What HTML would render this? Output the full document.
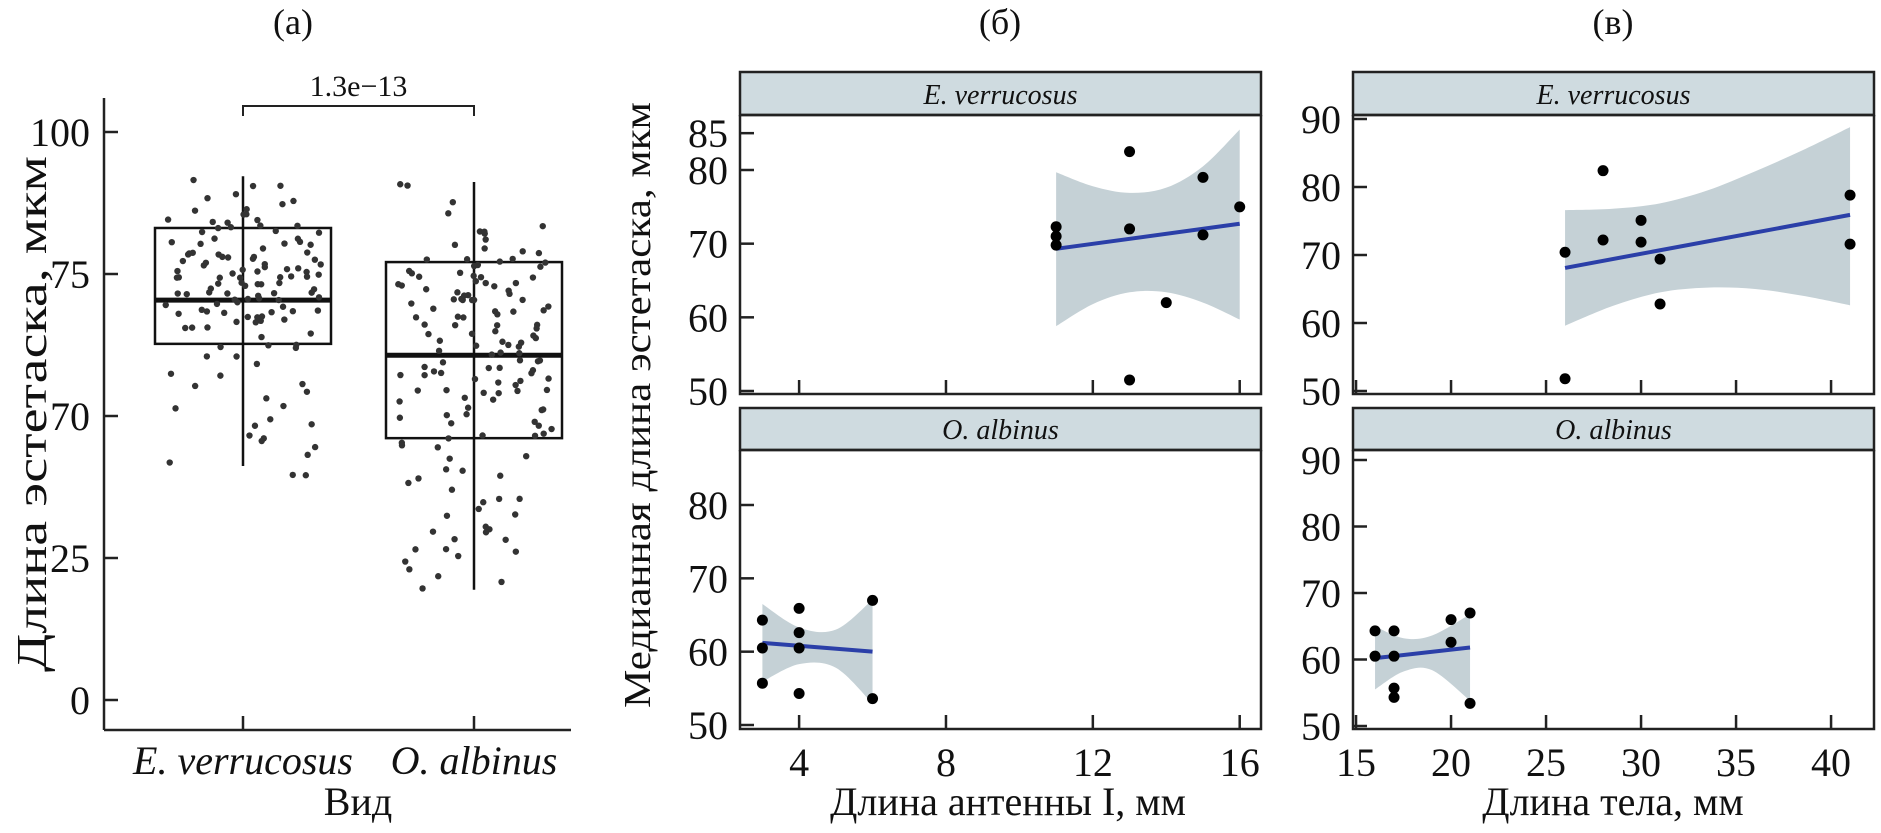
<!DOCTYPE html>
<html><head><meta charset="utf-8">
<style>
html,body{margin:0;padding:0;background:#fff;}
svg{display:block;font-family:"Liberation Serif",serif;}
</style></head>
<body>
<svg id="chart" width="1881" height="833" viewBox="0 0 1881 833" xmlns="http://www.w3.org/2000/svg"></svg>
<script>
// ---------- Panel (a) data ----------
const aCategories = ["E. verrucosus", "O. albinus"];
const aTickValues = [100, 75, 50, 25, 0];
const aTickLabels = ["100", "75", "70", "25", "0"];
const aQ1 = [62.7, 46.1];
const aMedian = [70.4, 60.7];
const aQ3 = [83.1, 77.1];
const aWhiskerLo = [41.2, 19.4];
const aWhiskerHi = [92.2, 91.2];
const evValues = [92,91,90,89,88,88,87,86,86,85,85,84,84,84,83,83,83,82,82,82,81,81,81,80,80,80,80,79,79,79,79,78,78,78,78,77,77,77,77,77,76,76,76,76,76,75,75,75,75,75,75,74,74,74,74,74,73,73,73,73,73,72,72,72,72,72,71,71,71,71,71,70,70,70,70,70,69,69,69,69,68,68,68,68,67,67,67,66,66,66,65,65,64,64,63,63,62,62,61,60,59,58,57,56,55,54,53,52,51,50,49,48,47,46,45,44,43,42,40,39,81,79,77,75,73,71,69,67,84,86];
const oaValues = [91,90,88,86,84,83,82,82,81,80,80,79,79,78,78,77,77,77,76,76,76,75,75,75,75,74,74,74,74,73,73,73,73,72,72,72,72,71,71,71,71,70,70,70,70,69,69,69,68,68,68,67,67,67,66,66,66,65,65,65,64,64,64,63,63,63,62,62,62,61,61,61,60,60,60,60,59,59,59,58,58,58,57,57,57,56,56,56,55,55,55,54,54,54,53,53,52,52,51,51,50,50,49,49,48,48,47,47,46,46,45,44,43,42,41,40,39,38,37,36,35,34,33,32,31,30,29,28,27,26,25,24,23,22,21,20,74,70,66,62,58,54,50,45,40,35,30,28,26];
const aPValue = "1.3e\u221213";

// ---------- Panel (б) data: antenna length ----------
const bXTicks = [4, 8, 12, 16];
const bYTicksTop = [50, 60, 70, 80, 85];
const bYTicksBottom = [50, 60, 70, 80];
const bEvX = [11, 11, 11, 13, 13, 13, 14, 15, 15, 16];
const bEvY = [72.3, 71.0, 69.8, 82.5, 72.0, 51.5, 62.0, 79.0, 71.2, 75.0];
const bEvFitX = [11, 16];
const bEvFitY = [69.3, 72.7];
const bEvCiX = [11, 12, 13, 14, 15, 16];
const bEvCiLo = [58.8, 61.8, 63.4, 63.4, 62.0, 59.7];
const bEvCiHi = [79.7, 77.8, 76.9, 77.6, 80.5, 85.5];
const bOaX = [3, 3, 3, 4, 4, 4, 4, 6, 6];
const bOaY = [64.3, 60.5, 55.7, 65.9, 62.6, 60.5, 54.3, 67.0, 53.6];
const bOaFitX = [3, 6];
const bOaFitY = [61.2, 60.0];
const bOaCiX = [3, 4, 5, 6];
const bOaCiLo = [55.9, 58.3, 57.8, 52.9];
const bOaCiHi = [66.5, 63.3, 63.0, 67.1];

// ---------- Panel (в) data: body length ----------
const cXTicks = [15, 20, 25, 30, 35, 40];
const cYTicks = [50, 60, 70, 80, 90];
const cEvX = [26, 26, 28, 28, 30, 30, 31, 31, 41, 41];
const cEvY = [70.4, 51.8, 82.4, 72.2, 75.1, 71.9, 69.4, 62.8, 78.8, 71.6];
const cEvFitX = [26, 41];
const cEvFitY = [68.1, 75.9];
const cEvCiX = [26, 28.5, 31, 33.5, 36, 38.5, 41];
const cEvCiLo = [59.6, 62.5, 64.5, 65.2, 65.0, 64.0, 62.6];
const cEvCiHi = [76.6, 76.8, 77.6, 79.5, 82.3, 85.4, 88.8];
const cOaX = [16, 16, 17, 17, 17, 17, 20, 20, 21, 21];
const cOaY = [64.3, 60.5, 64.3, 60.5, 55.7, 54.3, 66.0, 62.6, 67.0, 53.4];
const cOaFitX = [16, 21];
const cOaFitY = [60.2, 61.8];
const cOaCiX = [16, 17.5, 19, 21];
const cOaCiLo = [55.5, 58.2, 58.4, 53.8];
const cOaCiHi = [65.0, 63.2, 63.6, 66.8];

const NS = "http://www.w3.org/2000/svg";
const svg = document.getElementById("chart");
function mk(tag, attrs, parent) {
  const e = document.createElementNS(NS, tag);
  for (const k in attrs) e.setAttribute(k, attrs[k]);
  (parent || svg).appendChild(e);
  return e;
}
function txt(str, attrs, parent) {
  const e = mk("text", attrs, parent);
  e.textContent = str;
  return e;
}
function lin(d0, d1, r0, r1) { return v => r0 + (v - d0) * (r1 - r0) / (d1 - d0); }
// Catmull-Rom smooth path through points
function smooth(pts, start) {
  let d = (start ? "M" : "L") + pts[0][0] + "," + pts[0][1];
  for (let i = 0; i < pts.length - 1; i++) {
    const p0 = pts[i - 1] || pts[i], p1 = pts[i], p2 = pts[i + 1], p3 = pts[i + 2] || p2;
    const c1x = p1[0] + (p2[0] - p0[0]) / 6, c1y = p1[1] + (p2[1] - p0[1]) / 6;
    const c2x = p2[0] - (p3[0] - p1[0]) / 6, c2y = p2[1] - (p3[1] - p1[1]) / 6;
    d += `C${c1x},${c1y} ${c2x},${c2y} ${p2[0]},${p2[1]}`;
  }
  return d;
}

// ================= Panel (a) =================
const ga = mk("g", {});


const aY = lin(0, 100, 700, 132);
const aX = [243, 474];
const aAxisX = 104, aAxisBottom = 730;
let e;
e = txt("(а)", {x: 293, y: 34, "font-size": 36, "text-anchor": "middle", fill: "#111"}, ga);
 
e = mk("line", {x1: aAxisX, y1: 98, x2: aAxisX, y2: aAxisBottom, stroke: "#222", "stroke-width": 2.5}, ga);
 
e = mk("line", {x1: aAxisX, y1: aAxisBottom, x2: 571, y2: aAxisBottom, stroke: "#222", "stroke-width": 2.5}, ga);
 
aTickValues.forEach((v, i) => {
  const y = aY(v);
  const t = mk("line", {x1: aAxisX, y1: y, x2: aAxisX + 14, y2: y, stroke: "#222", "stroke-width": 2.5}, ga);
   
  const l = txt(aTickLabels[i], {x: aAxisX - 14, y: y + 14, "font-size": 40, "text-anchor": "end", fill: "#111"}, ga);
   
});
e = txt("Длина эстетаска, мкм", {x: 0, y: 0, "font-size": 42, "text-anchor": "middle", fill: "#111", transform: "translate(46,414) rotate(-90)", textLength: 516, lengthAdjust: "spacingAndGlyphs"}, ga);
 
aCategories.forEach((c, i) => {
  const t = mk("line", {x1: aX[i], y1: aAxisBottom, x2: aX[i], y2: aAxisBottom - 14, stroke: "#222", "stroke-width": 2.5}, ga);
   
  const l = txt(c, {x: aX[i], y: 774, "font-size": 40, "font-style": "italic", "text-anchor": "middle", fill: "#111"}, ga);
   
});
e = txt("Вид", {x: 358, y: 815, "font-size": 40, "text-anchor": "middle", fill: "#111"}, ga);
 
aCategories.forEach((c, i) => {
  const x = aX[i], hw = 88;
  const w = mk("line", {x1: x, y1: aY(aWhiskerHi[i]), x2: x, y2: aY(aWhiskerLo[i]), stroke: "#111", "stroke-width": 2.5}, ga);
   
  const b = mk("rect", {x: x - hw, y: aY(aQ3[i]), width: 2 * hw, height: aY(aQ1[i]) - aY(aQ3[i]), fill: "none", stroke: "#111", "stroke-width": 2.5}, ga);
   
  const m = mk("line", {x1: x - hw, y1: aY(aMedian[i]), x2: x + hw, y2: aY(aMedian[i]), stroke: "#111", "stroke-width": 5}, ga);
   
});
function jit(i, s) { const r = Math.sin(i * 12.9898 + s * 78.233) * 43758.5453; return (r - Math.floor(r)) * 2 - 1; }
[evValues, oaValues].forEach((vals, gi) => {
  vals.forEach((v, i) => {
    const p = mk("circle", {cx: aX[gi] + jit(i, gi + 1) * 78, cy: aY(v + jit(i, gi + 7) * 0.6), r: 3.2, fill: "#333"}, ga);
     
  });
});
e = mk("path", {d: `M${aX[0]},116 V106 H${aX[1]} V116`, fill: "none", stroke: "#222", "stroke-width": 2}, ga);
 
e = txt(aPValue, {x: (aX[0] + aX[1]) / 2, y: 96, "font-size": 30, "text-anchor": "middle", fill: "#111"}, ga);
 

// ================= Facet panels =================
function facet(opt) {
  const g = mk("g", {});
  
  
  const sx = lin(opt.xd[0], opt.xd[1], opt.x0, opt.x1);
  const sy = lin(opt.yd[0], opt.yd[1], opt.yr[0], opt.yr[1]);
  const s = mk("rect", {x: opt.x0, y: opt.sTop, width: opt.x1 - opt.x0, height: opt.pTop - opt.sTop, fill: "#cfdbe0", stroke: "#222", "stroke-width": 2.5}, g);
   
  const st = txt(opt.strip, {x: (opt.x0 + opt.x1) / 2, y: opt.pTop - 11, "font-size": 28, "font-style": "italic", "text-anchor": "middle", fill: "#111"}, g);
   
  const hi = opt.ciX.map((x, i) => [sx(x), sy(opt.ciHi[i])]);
  const lo = opt.ciX.map((x, i) => [sx(x), sy(opt.ciLo[i])]).reverse();
  const rib = mk("path", {d: smooth(hi, true) + smooth(lo, false) + "Z", fill: "#c5d1d6", stroke: "none"}, g);
   
  const fl = mk("line", {x1: sx(opt.fitX[0]), y1: sy(opt.fitY[0]), x2: sx(opt.fitX[1]), y2: sy(opt.fitY[1]), stroke: "#2b3fa8", "stroke-width": 4}, g);
   
  opt.px.forEach((x, i) => {
    const c = mk("circle", {cx: sx(x), cy: sy(opt.py[i]), r: 5.5, fill: "#000"}, g);
     
  });
  const fr = mk("path", {d: `M${opt.x0},${opt.pTop} V${opt.pBot} H${opt.x1} V${opt.pTop}`, fill: "none", stroke: "#222", "stroke-width": 2.5}, g);
   
  const fr2 = mk("line", {x1: opt.x0, y1: opt.pTop, x2: opt.x1, y2: opt.pTop, stroke: "#222", "stroke-width": 2.5}, g);
   
  opt.yTicks.forEach(v => {
    const y = sy(v);
    const t = mk("line", {x1: opt.x0, y1: y, x2: opt.x0 + 14, y2: y, stroke: "#222", "stroke-width": 2.5}, g);
     
    const l = txt(String(v), {x: opt.x0 - 12, y: y + 14, "font-size": 40, "text-anchor": "end", fill: "#111"}, g);
     
  });
  opt.xTicks.forEach(v => {
    const x = sx(v);
    const t = mk("line", {x1: x, y1: opt.pBot, x2: x, y2: opt.pBot - 14, stroke: "#222", "stroke-width": 2.5}, g);
     
    if (opt.showX) {
      const l = txt(String(v), {x: x, y: 776, "font-size": 40, "text-anchor": "middle", fill: "#111"}, g);
       
    }
  });
}
const bXd = [2.39, 16.58], cXd = [14.84, 42.26];
facet({name: "panel-b-top", x0: 740, x1: 1261, sTop: 72, pTop: 115, pBot: 394, xd: bXd, yd: [50, 80], yr: [391, 170],
  strip: "E. verrucosus", ciX: bEvCiX, ciLo: bEvCiLo, ciHi: bEvCiHi, fitX: bEvFitX, fitY: bEvFitY, px: bEvX, py: bEvY, yTicks: bYTicksTop, xTicks: bXTicks, showX: false});
facet({name: "panel-b-bottom", x0: 740, x1: 1261, sTop: 408, pTop: 450, pBot: 729, xd: bXd, yd: [50, 80], yr: [725, 505],
  strip: "O. albinus", ciX: bOaCiX, ciLo: bOaCiLo, ciHi: bOaCiHi, fitX: bOaFitX, fitY: bOaFitY, px: bOaX, py: bOaY, yTicks: bYTicksBottom, xTicks: bXTicks, showX: true});
facet({name: "panel-c-top", x0: 1353, x1: 1874, sTop: 72, pTop: 115, pBot: 394, xd: cXd, yd: [50, 90], yr: [391, 119],
  strip: "E. verrucosus", ciX: cEvCiX, ciLo: cEvCiLo, ciHi: cEvCiHi, fitX: cEvFitX, fitY: cEvFitY, px: cEvX, py: cEvY, yTicks: cYTicks, xTicks: cXTicks, showX: false});
facet({name: "panel-c-bottom", x0: 1353, x1: 1874, sTop: 408, pTop: 450, pBot: 729, xd: cXd, yd: [50, 90], yr: [726, 460],
  strip: "O. albinus", ciX: cOaCiX, ciLo: cOaCiLo, ciHi: cOaCiHi, fitX: cOaFitX, fitY: cOaFitY, px: cOaX, py: cOaY, yTicks: cYTicks, xTicks: cXTicks, showX: true});

e = txt("(б)", {x: 1000, y: 34, "font-size": 36, "text-anchor": "middle", fill: "#111"});
 
e = txt("(в)", {x: 1613, y: 34, "font-size": 36, "text-anchor": "middle", fill: "#111"});
 
e = txt("Медианная длина эстетаска, мкм", {x: 0, y: 0, "font-size": 38, "text-anchor": "middle", fill: "#111", transform: "translate(650,405) rotate(-90)", textLength: 606, lengthAdjust: "spacingAndGlyphs"});
 
e = txt("Длина антенны I, мм", {x: 1008, y: 815, "font-size": 40, "text-anchor": "middle", fill: "#111"});
 
e = txt("Длина тела, мм", {x: 1613, y: 815, "font-size": 40, "text-anchor": "middle", fill: "#111"});
 
</script>
</body></html>
